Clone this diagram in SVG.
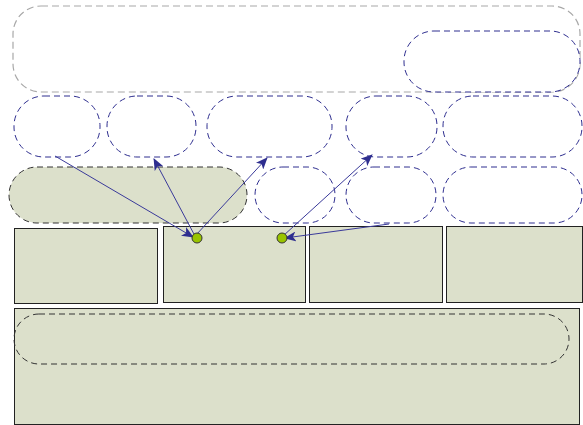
<svg xmlns="http://www.w3.org/2000/svg" width="583" height="425" viewBox="0 0 583 425">
  <style>
    .grey { fill: none; stroke: #a8a8a8; stroke-width: 1.2; stroke-dasharray: 7 4; }
    .blue { fill: #ffffff; stroke: #2e2e8f; stroke-width: 1; stroke-dasharray: 6 4; }
    .zone { fill: #dce0cb; stroke: #333333; stroke-width: 1; stroke-dasharray: 6 4; }
    .box { fill: #dce0cb; stroke: #222222; stroke-width: 1; }
    .dot { fill: #99c400; stroke: #333333; stroke-width: 1; }
    .link { fill: none; stroke: #3a3a9a; stroke-width: 1; marker-end: url(#head); }
  </style>
  <defs>
    <marker id="head" viewBox="0 0 12 10" refX="11" refY="5" markerWidth="12" markerHeight="10" markerUnits="userSpaceOnUse" orient="auto">
      <path d="M0,0 L12,5 L0,10 L3,5 Z" fill="#2e2e8f"/>
    </marker>
  </defs>

  <rect width="583" height="425" fill="#ffffff"/>

  <!-- outer region -->
  <g id="region-top">
    <rect class="grey" x="13" y="6" width="567" height="86" rx="28" ry="28"/>
  </g>
  <g id="top-right">
    <rect class="blue" x="404" y="31" width="176" height="61" rx="30" ry="30"/>
  </g>

  <!-- second row -->
  <g id="r2-1"><rect class="blue" x="14" y="96" width="86" height="61" rx="30" ry="30"/></g>
  <g id="r2-2"><rect class="blue" x="107" y="96" width="89" height="61" rx="30" ry="30"/></g>
  <g id="r2-3"><rect class="blue" x="207" y="96" width="125" height="61" rx="30" ry="30"/></g>
  <g id="r2-4"><rect class="blue" x="346" y="96" width="91" height="61" rx="30" ry="30"/></g>
  <g id="r2-5"><rect class="blue" x="443" y="96" width="139" height="61" rx="30" ry="30"/></g>

  <!-- third row -->
  <g id="r3-zone"><rect class="zone" x="9" y="167" width="238" height="56" rx="28" ry="28"/></g>
  <g id="r3-2"><rect class="blue" x="255" y="167" width="80" height="56" rx="28" ry="28"/></g>
  <g id="r3-3"><rect class="blue" x="346" y="167" width="90" height="56" rx="28" ry="28"/></g>
  <g id="r3-4"><rect class="blue" x="443" y="167" width="139" height="56" rx="28" ry="28"/></g>

  <!-- fourth row -->
  <g id="b1"><rect class="box" x="14.5" y="228.5" width="143" height="75"/></g>
  <g id="b2"><rect class="box" x="163.5" y="226.5" width="142" height="76"/></g>
  <g id="b3"><rect class="box" x="309.5" y="226.5" width="133" height="76"/></g>
  <g id="b4"><rect class="box" x="446.5" y="226.5" width="136" height="76"/></g>

  <!-- base -->
  <g id="base">
    <rect class="box" x="14.5" y="308.5" width="565" height="116"/>
    <rect class="zone" x="14" y="314" width="555" height="50" rx="25" ry="25" style="fill:none"/>
  </g>

  <!-- connectors -->
  <g id="connectors">
    <line class="link" x1="55" y1="156" x2="193" y2="237"/>
    <line class="link" x1="195" y1="236" x2="154" y2="159"/>
    <line class="link" x1="196" y1="235" x2="267" y2="158"/>
    <line class="link" x1="283" y1="236" x2="372" y2="155"/>
    <line class="link" x1="389" y1="224" x2="285" y2="238"/>
  </g>

  <g id="dot-1"><circle class="dot" cx="197" cy="238" r="5"/></g>
  <g id="dot-2"><circle class="dot" cx="282" cy="238" r="5"/></g>
</svg>
